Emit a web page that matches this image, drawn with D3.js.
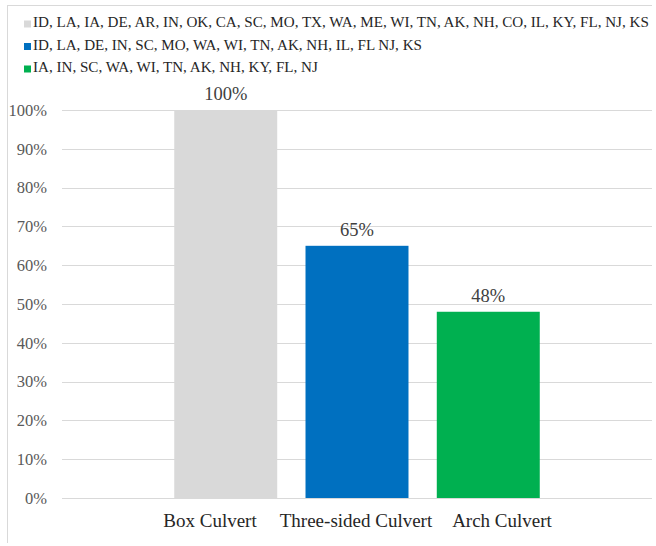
<!DOCTYPE html>
<html><head><meta charset="utf-8">
<script src="https://cdn.jsdelivr.net/npm/d3@7"></script>
<style>html,body{margin:0;padding:0;background:#fff;}svg{display:block;}</style>
</head><body>
<svg id="c" width="656" height="546"></svg>
<script>
const categories = ["Box Culvert", "Three-sided Culvert", "Arch Culvert"];
const values = [1.00, 0.65, 0.48];
const colors = ["#d9d9d9", "#0070c0", "#00b050"];
const legendLabels = [
  "ID, LA, IA, DE, AR, IN, OK, CA, SC, MO, TX, WA, ME, WI, TN, AK, NH, CO, IL, KY, FL, NJ, KS",
  "ID, LA, DE, IN, SC, MO, WA, WI, TN, AK, NH, IL, FL NJ, KS",
  "IA, IN, SC, WA, WI, TN, AK, NH, KY, FL, NJ"
];
const yTicks = [0, 0.1, 0.2, 0.3, 0.4, 0.5, 0.6, 0.7, 0.8, 0.9, 1.0];

const svg = d3.select("#c");
const font = "Liberation Serif, Tinos, Times New Roman, Times, Noto Serif, DejaVu Serif, serif";
const mLeft = 62, mRight = 652, mTop = 110, mBottom = 498;

// chart border (partial, as cropped)
svg.append("line").attr("x1", 7).attr("x2", 652).attr("y1", 5.5).attr("y2", 5.5).attr("stroke", "#d9d9d9");
svg.append("line").attr("x1", 7.5).attr("x2", 7.5).attr("y1", 5).attr("y2", 543).attr("stroke", "#d9d9d9");

const y = d3.scaleLinear().domain([0, 1]).range([mBottom, mTop]);
const x = d3.scaleBand().domain(categories).range([mLeft, mRight]).paddingInner(0.2155).paddingOuter(0.855);
const xl = d3.scalePoint().domain(categories).range([210, 502]);

// gridlines
svg.append("g").selectAll("line").data(yTicks.filter(d => d > 0)).join("line")
  .attr("x1", mLeft).attr("x2", mRight)
  .attr("y1", d => Math.round(y(d)) + 0.5).attr("y2", d => Math.round(y(d)) + 0.5)
  .attr("stroke", "#d9d9d9").attr("stroke-width", 1);

// y axis labels
const yAxis = d3.axisLeft(y).tickValues(yTicks).tickFormat(d3.format(".0%")).tickSize(0).tickPadding(15);
const ya = svg.append("g").attr("transform", `translate(${mLeft},0)`).call(yAxis);
ya.attr("font-family", null).attr("font-size", null);
ya.select(".domain").remove();
ya.selectAll("text").style("font-family", font).style("font-size", "16.5px").attr("fill", "#595959");

// bars
svg.append("g").selectAll("rect").data(values).join("rect")
  .attr("x", (d, i) => x(categories[i]))
  .attr("width", x.bandwidth())
  .attr("y", d => y(d))
  .attr("height", d => y(0) - y(d))
  .attr("fill", (d, i) => colors[i]);

// baseline axis
svg.append("line").attr("x1", mLeft).attr("x2", mRight)
  .attr("y1", Math.round(y(0)) + 0.5).attr("y2", Math.round(y(0)) + 0.5)
  .attr("stroke", "#d9d9d9");

// value labels
svg.append("g").selectAll("text").data(values).join("text")
  .attr("x", (d, i) => x(categories[i]) + x.bandwidth() / 2)
  .attr("y", d => y(d) - 10)
  .attr("text-anchor", "middle")
  .style("font-family", font).style("font-size", "18.5px").attr("fill", "#404040")
  .text(d => d3.format(".0%")(d));

// category labels
svg.append("g").selectAll("text").data(categories).join("text")
  .attr("x", d => xl(d)).attr("y", 527)
  .attr("text-anchor", "middle")
  .style("font-family", font).style("font-size", "19px").attr("fill", "#262626")
  .text(d => d);

// legend
const lg = svg.append("g").selectAll("g").data(legendLabels).join("g")
  .attr("transform", (d, i) => `translate(24,${27 + i * 22.5})`);
lg.append("rect").attr("x", 0).attr("y", -6.5).attr("width", 7).attr("height", 7).attr("fill", (d, i) => colors[i]);
lg.append("text").attr("x", 9).attr("y", 0)
  .style("font-family", font).style("font-size", "15.1px").attr("fill", "#262626")
  .text(d => d);
</script>
</body></html>
